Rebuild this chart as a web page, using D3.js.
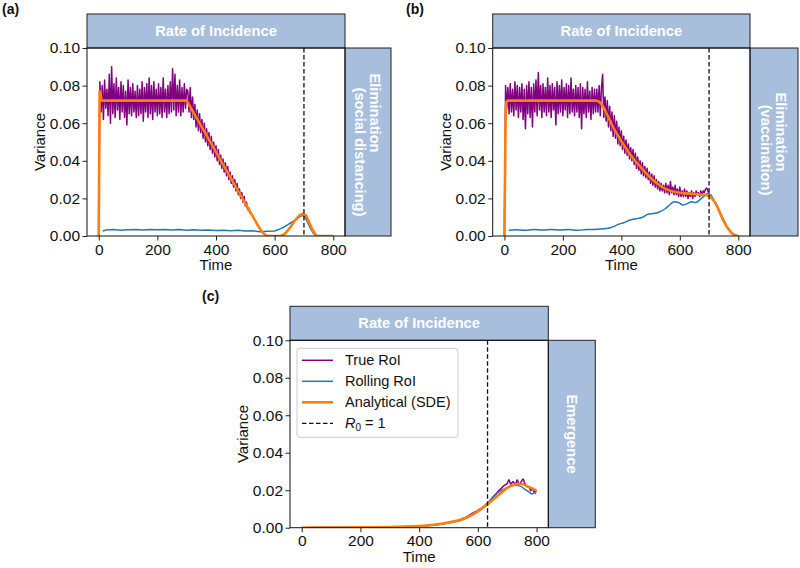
<!DOCTYPE html>
<html>
<head>
<meta charset="utf-8">
<script src="https://cdn.jsdelivr.net/npm/d3@7"></script>
<style>
  body { margin: 0; background: #fff; }
  svg { display: block; }
  text { font-family: "Liberation Sans", Arial, Helvetica, sans-serif; }
</style>
</head>
<body>
<svg id="chart" width="800" height="568"></svg>
<script>
// ---- data ----
const timeTicks = [0, 200, 400, 600, 800];
const varianceTicks = [0, 0.02, 0.04, 0.06, 0.08, 0.1];
const seriesNames = ["True RoI", "Rolling RoI", "Analytical (SDE)"];
const stripTitle = "Rate of Incidence";

// True RoI, sampled every 4 time units from t = 0
const trueStep = 4;
const aTrueRoI = [
  0.000, 0.082, 0.066, 0.080, 0.062, 0.083, 0.068, 0.078, 0.064, 0.086,
  0.060, 0.090, 0.065, 0.081, 0.063, 0.084, 0.067, 0.079, 0.062, 0.082,
  0.066, 0.080, 0.063, 0.077, 0.059, 0.083, 0.065, 0.079, 0.064, 0.081,
  0.066, 0.077, 0.063, 0.080, 0.064, 0.078, 0.065, 0.082, 0.061, 0.079,
  0.066, 0.081, 0.063, 0.084, 0.065, 0.080, 0.062, 0.082, 0.066, 0.078,
  0.064, 0.081, 0.065, 0.079, 0.063, 0.084, 0.066, 0.078, 0.063, 0.080,
  0.065, 0.082, 0.066, 0.089, 0.067, 0.086, 0.064, 0.080, 0.066, 0.083,
  0.064, 0.079, 0.066, 0.081, 0.068, 0.078,
  0.077, 0.066, 0.079, 0.063, 0.074, 0.062, 0.070, 0.058, 0.067, 0.056,
  0.065, 0.055, 0.062, 0.052, 0.060, 0.050, 0.057, 0.048, 0.055, 0.046,
  0.053, 0.044, 0.050, 0.042, 0.048, 0.040, 0.046, 0.038, 0.043, 0.036,
  0.041, 0.034, 0.039, 0.032, 0.037, 0.030, 0.034, 0.028, 0.032, 0.026,
  0.030, 0.024, 0.028, 0.022, 0.025, 0.020, 0.023, 0.018, 0.021, 0.016,
  0.018, 0.014, 0.015, 0.012
];
const bTrueRoI = [
  0.000, 0.080, 0.068, 0.079, 0.065, 0.081, 0.066, 0.078, 0.064, 0.082,
  0.067, 0.080, 0.063, 0.079, 0.066, 0.081, 0.062, 0.078, 0.057, 0.080,
  0.065, 0.082, 0.063, 0.079, 0.058, 0.081, 0.066, 0.083, 0.064, 0.087,
  0.067, 0.080, 0.063, 0.081, 0.066, 0.079, 0.064, 0.084, 0.066, 0.080,
  0.063, 0.081, 0.067, 0.079, 0.059, 0.082, 0.065, 0.080, 0.066, 0.083,
  0.064, 0.079, 0.067, 0.081, 0.063, 0.080, 0.065, 0.084, 0.066, 0.078,
  0.064, 0.080, 0.066, 0.079, 0.063, 0.081, 0.057, 0.079, 0.065, 0.078,
  0.063, 0.082, 0.066, 0.077, 0.062, 0.079, 0.065, 0.078, 0.066,
  0.078, 0.066, 0.080, 0.064, 0.079, 0.086, 0.063, 0.074, 0.061, 0.072,
  0.058, 0.069, 0.056, 0.066, 0.053, 0.064, 0.052, 0.061, 0.049, 0.058,
  0.048, 0.056, 0.046, 0.053, 0.044, 0.051, 0.043, 0.049, 0.041, 0.047,
  0.040, 0.046, 0.038, 0.044, 0.036, 0.042, 0.035, 0.040, 0.033, 0.039,
  0.032, 0.037, 0.031, 0.036, 0.030, 0.034, 0.028, 0.033, 0.027, 0.032,
  0.026, 0.030, 0.025, 0.029, 0.024, 0.028, 0.024, 0.027, 0.023, 0.028,
  0.023, 0.027, 0.022, 0.029, 0.023, 0.026, 0.022, 0.027, 0.022, 0.025,
  0.021, 0.026, 0.021, 0.024, 0.021, 0.025, 0.021, 0.024, 0.020, 0.023,
  0.021, 0.024, 0.020, 0.023, 0.021, 0.024, 0.022, 0.023, 0.021, 0.024,
  0.022, 0.024, 0.023, 0.025, 0.0255, 0.024, 0.0225
];
// [time, variance] pairs
const cTrueRoI = [[0, 0], [100, 0.0001], [200, 0.0002], [300, 0.0004], [400, 0.0009], [450, 0.0016],
  [500, 0.0028], [540, 0.0043], [560, 0.0056], [580, 0.0076], [600, 0.0093], [620, 0.0113], [630, 0.0128],
  [640, 0.0136], [650, 0.016], [660, 0.0176], [670, 0.0196], [680, 0.021], [690, 0.0226], [700, 0.0236],
  [706, 0.0256], [712, 0.0232], [720, 0.0246], [728, 0.023], [734, 0.0256], [740, 0.0232], [748, 0.0246],
  [754, 0.026], [760, 0.0235], [768, 0.022], [775, 0.0215], [780, 0.0198], [786, 0.0206], [792, 0.019], [800, 0.0195]];

const aRollingRoI = [[14, 0.0027], [25, 0.0032], [50, 0.0034], [75, 0.0031], [100, 0.0033], [125, 0.0035],
  [150, 0.0032], [175, 0.0034], [200, 0.0033], [225, 0.0035], [250, 0.0032], [275, 0.0034], [300, 0.0031],
  [325, 0.0033], [350, 0.003], [375, 0.0032], [400, 0.0029], [425, 0.0031], [450, 0.0028], [475, 0.003],
  [500, 0.0026], [525, 0.0028], [550, 0.0023], [575, 0.0025], [600, 0.0027], [615, 0.0035], [630, 0.0046],
  [645, 0.006], [660, 0.0075], [675, 0.009], [688, 0.0105], [696, 0.011], [703, 0.0102], [712, 0.0075],
  [722, 0.0042], [732, 0.0015], [740, 0.0003], [748, 0], [800, 0]];
const bRollingRoI = [[15, 0.003], [40, 0.0033], [70, 0.0031], [100, 0.0034], [130, 0.0032], [160, 0.0035],
  [190, 0.0032], [220, 0.0034], [250, 0.0031], [280, 0.0034], [310, 0.0035], [340, 0.0038], [365, 0.0045],
  [390, 0.0062], [410, 0.0072], [430, 0.0085], [450, 0.0092], [470, 0.0098], [490, 0.0115], [510, 0.012],
  [530, 0.0128], [550, 0.0145], [565, 0.0165], [580, 0.0182], [595, 0.0178], [610, 0.0165], [625, 0.0172],
  [640, 0.0182], [655, 0.0178], [670, 0.0195], [685, 0.0215], [695, 0.0225], [705, 0.022], [715, 0.0195],
  [725, 0.017], [735, 0.0135], [745, 0.0102], [755, 0.007], [765, 0.0042], [775, 0.002], [785, 0.0007], [795, 0.0001]];
const cRollingRoI = [[15, 0], [100, 0.0001], [200, 0.0002], [300, 0.0004], [400, 0.0008], [500, 0.0025],
  [560, 0.005], [600, 0.0088], [630, 0.0125], [660, 0.0178], [690, 0.0207], [710, 0.0221], [730, 0.0226],
  [745, 0.0222], [760, 0.0205], [775, 0.019], [785, 0.018], [792, 0.0186], [798, 0.018]];

const aAnalytical = [[0, 0], [3, 0.077], [6, 0.0765], [9, 0.072], [300, 0.072], [344, 0.06], [417, 0.04],
  [490, 0.02], [510, 0.0145], [527, 0.01], [545, 0.005], [558, 0.002], [570, 0.0003], [580, 0], [622, 0],
  [632, 0.0008], [640, 0.002], [655, 0.005], [670, 0.0085], [685, 0.011], [697, 0.0118], [707, 0.011],
  [717, 0.0075], [727, 0.004], [737, 0.0012], [745, 0], [800, 0]];
const bAnalytical = [[0, 0], [3, 0.045], [5, 0.068], [8, 0.0718], [12, 0.072], [313, 0.072], [330, 0.0705],
  [350, 0.065], [370, 0.0585], [390, 0.053], [410, 0.048], [430, 0.0435], [450, 0.0395], [470, 0.036],
  [490, 0.0325], [510, 0.0295], [530, 0.027], [550, 0.0252], [570, 0.024], [590, 0.0233], [610, 0.0228],
  [640, 0.0224], [670, 0.022], [695, 0.0215], [705, 0.0208], [715, 0.019], [725, 0.0165], [735, 0.013],
  [745, 0.0095], [755, 0.0065], [765, 0.004], [775, 0.002], [785, 0.0007], [795, 0.0001], [800, 0]];
const cAnalytical = [[0, 0], [100, 0.0001], [200, 0.0002], [300, 0.0004], [350, 0.0006], [400, 0.0009],
  [450, 0.0016], [500, 0.0028], [550, 0.0046], [580, 0.0068], [600, 0.0087], [630, 0.0121], [664, 0.0165],
  [698, 0.021], [732, 0.0232], [750, 0.0233], [766, 0.0222], [785, 0.021], [800, 0.0198]];

const r0Time = { a: 700, b: 700, c: 633 };

// ---- layout ----
const colors = { truth: "#800080", rolling: "#1f77b4", analytic: "#ff7f0e" };
const stripFill = "#a7bedc";
const tickFontSize = 15.5;

const panels = [
  { id: "a", letter: "(a)", lx: 2, ly: 14, left: 87, right: 345, top: 48, bottom: 236, stripW: 46,
    truth: aTrueRoI.map((v, i) => [i * trueStep, v]), rolling: aRollingRoI, analytic: aAnalytical,
    curve: d3.curveLinear, r0: r0Time.a,
    side: [{ text: "Elimination", dx: 7, cy: 113 }, { text: "(social distancing)", dx: -8, cy: 152 }] },
  { id: "b", letter: "(b)", lx: 406, ly: 14, left: 492.7, right: 750, top: 48, bottom: 236, stripW: 48,
    truth: bTrueRoI.map((v, i) => [i * trueStep, v]), rolling: bRollingRoI, analytic: bAnalytical,
    curve: d3.curveMonotoneX, r0: r0Time.b,
    side: [{ text: "Elimination", dx: 7, cy: 132 }, { text: "(vaccination)", dx: -8, cy: 150 }] },
  { id: "c", letter: "(c)", lx: 202, ly: 301, left: 290, right: 548.3, top: 340.3, bottom: 527.7, stripW: 47,
    truth: cTrueRoI, rolling: cRollingRoI, analytic: cAnalytical,
    curve: d3.curveMonotoneX, r0: r0Time.c, legend: true,
    side: [{ text: "Emergence", dx: 0, cy: 434 }] }
];

const svg = d3.select("#chart");

panels.forEach((p) => {
  const g = svg.append("g");
  const x = d3.scaleLinear().domain([-40, 840]).range([p.left, p.right]);
  const y = d3.scaleLinear().domain([0, 0.1]).range([p.bottom, p.top]);

  g.append("clipPath").attr("id", `clip-${p.id}`)
    .append("rect")
    .attr("x", p.left).attr("y", p.top)
    .attr("width", p.right - p.left).attr("height", p.bottom - p.top);

  // top strip
  g.append("rect")
    .attr("x", p.left).attr("y", p.top - 34)
    .attr("width", p.right - p.left).attr("height", 34)
    .attr("fill", stripFill).attr("stroke", "#222").attr("stroke-width", 1);
  g.append("text")
    .attr("x", (p.left + p.right) / 2).attr("y", p.top - 17)
    .attr("text-anchor", "middle").attr("dominant-baseline", "central")
    .attr("fill", "#fff").style("font-weight", "bold").style("font-size", "14.7px")
    .text(stripTitle);

  // right strip
  g.append("rect")
    .attr("x", p.right).attr("y", p.top)
    .attr("width", p.stripW).attr("height", p.bottom - p.top)
    .attr("fill", stripFill).attr("stroke", "#222").attr("stroke-width", 1);
  const cx = p.right + p.stripW / 2;
  p.side.forEach((s) => {
    g.append("text")
      .attr("transform", `translate(${cx + s.dx},${s.cy}) rotate(90)`)
      .attr("text-anchor", "middle").attr("dominant-baseline", "central")
      .attr("fill", "#fff").style("font-weight", "bold").style("font-size", "14.7px")
      .text(s.text);
  });

  // axes
  const xAxis = g.append("g")
    .attr("transform", `translate(0,${p.bottom})`)
    .call(d3.axisBottom(x).tickValues(timeTicks).tickSize(4.5).tickPadding(3).tickSizeOuter(0));
  const yAxis = g.append("g")
    .attr("transform", `translate(${p.left},0)`)
    .call(d3.axisLeft(y).tickValues(varianceTicks).tickFormat(d3.format(".2f"))
      .tickSize(4.5).tickPadding(2.5).tickSizeOuter(0));
  [xAxis, yAxis].forEach((ax) => {
    ax.select(".domain").remove();
    ax.selectAll("line").attr("stroke", "#222");
    ax.selectAll("text").attr("fill", "#111").style("font-size", tickFontSize + "px")
      .style("font-family", '"Liberation Sans", Arial, Helvetica, sans-serif');
  });

  g.append("text")
    .attr("x", (p.left + p.right) / 2).attr("y", p.bottom + 34)
    .attr("text-anchor", "middle").attr("fill", "#111")
    .style("font-size", "15px").text("Time");
  g.append("text")
    .attr("transform", `translate(${p.left - 42},${(p.top + p.bottom) / 2}) rotate(-90)`)
    .attr("text-anchor", "middle").attr("fill", "#111")
    .style("font-size", "15px").text("Variance");

  g.append("text")
    .attr("x", p.lx).attr("y", p.ly)
    .attr("fill", "#111").style("font-weight", "bold").style("font-size", "14px")
    .text(p.letter);

  // series
  const plot = g.append("g").attr("clip-path", `url(#clip-${p.id})`);
  const lineLin = d3.line().x((d) => x(d[0])).y((d) => y(d[1]));
  const lineSmooth = d3.line().x((d) => x(d[0])).y((d) => y(d[1])).curve(p.curve);

  plot.append("path").datum(p.truth)
    .attr("fill", "none").attr("stroke", colors.truth).attr("stroke-width", 1.5)
    .attr("stroke-linejoin", "round")
    .attr("d", p.id === "c" ? lineSmooth : lineLin);
  plot.append("path").datum(p.rolling)
    .attr("fill", "none").attr("stroke", colors.rolling).attr("stroke-width", 1.5)
    .attr("d", lineSmooth);
  plot.append("path").datum(p.analytic)
    .attr("fill", "none").attr("stroke", colors.analytic).attr("stroke-width", 2.6)
    .attr("stroke-linejoin", "round")
    .attr("d", lineSmooth);

  plot.append("line")
    .attr("x1", x(p.r0)).attr("x2", x(p.r0))
    .attr("y1", p.top).attr("y2", p.bottom)
    .attr("stroke", "#111").attr("stroke-width", 1.3)
    .attr("stroke-dasharray", "4.5,2.5");

  // frame
  g.append("rect")
    .attr("x", p.left).attr("y", p.top)
    .attr("width", p.right - p.left).attr("height", p.bottom - p.top)
    .attr("fill", "none").attr("stroke", "#111").attr("stroke-width", 1);

  if (p.legend) {
    const lg = g.append("g").attr("transform", `translate(${p.left + 7},${p.top + 8})`);
    lg.append("rect")
      .attr("width", 161).attr("height", 89).attr("rx", 3)
      .attr("fill", "#fff").attr("fill-opacity", 0.85)
      .attr("stroke", "#ccc").attr("stroke-width", 1);
    const items = [
      { name: seriesNames[0], color: colors.truth, w: 1.5 },
      { name: seriesNames[1], color: colors.rolling, w: 1.5 },
      { name: seriesNames[2], color: colors.analytic, w: 2.6 },
      { name: "r0", color: "#111", w: 1.3, dash: "4.5,2.5" }
    ];
    items.forEach((it, i) => {
      const yy = 12 + i * 21;
      lg.append("line")
        .attr("x1", 5).attr("x2", 36).attr("y1", yy).attr("y2", yy)
        .attr("stroke", it.color).attr("stroke-width", it.w)
        .attr("stroke-dasharray", it.dash || null);
      const t = lg.append("text")
        .attr("x", 48).attr("y", yy).attr("dominant-baseline", "central")
        .attr("fill", "#111").style("font-size", "14.5px");
      if (it.name === "r0") {
        t.append("tspan").style("font-style", "italic").text("R");
        t.append("tspan").attr("dy", 4).style("font-size", "10px").text("0");
        t.append("tspan").attr("dy", -4).text(" = 1");
      } else {
        t.text(it.name);
      }
    });
  }
});
</script>
</body>
</html>
